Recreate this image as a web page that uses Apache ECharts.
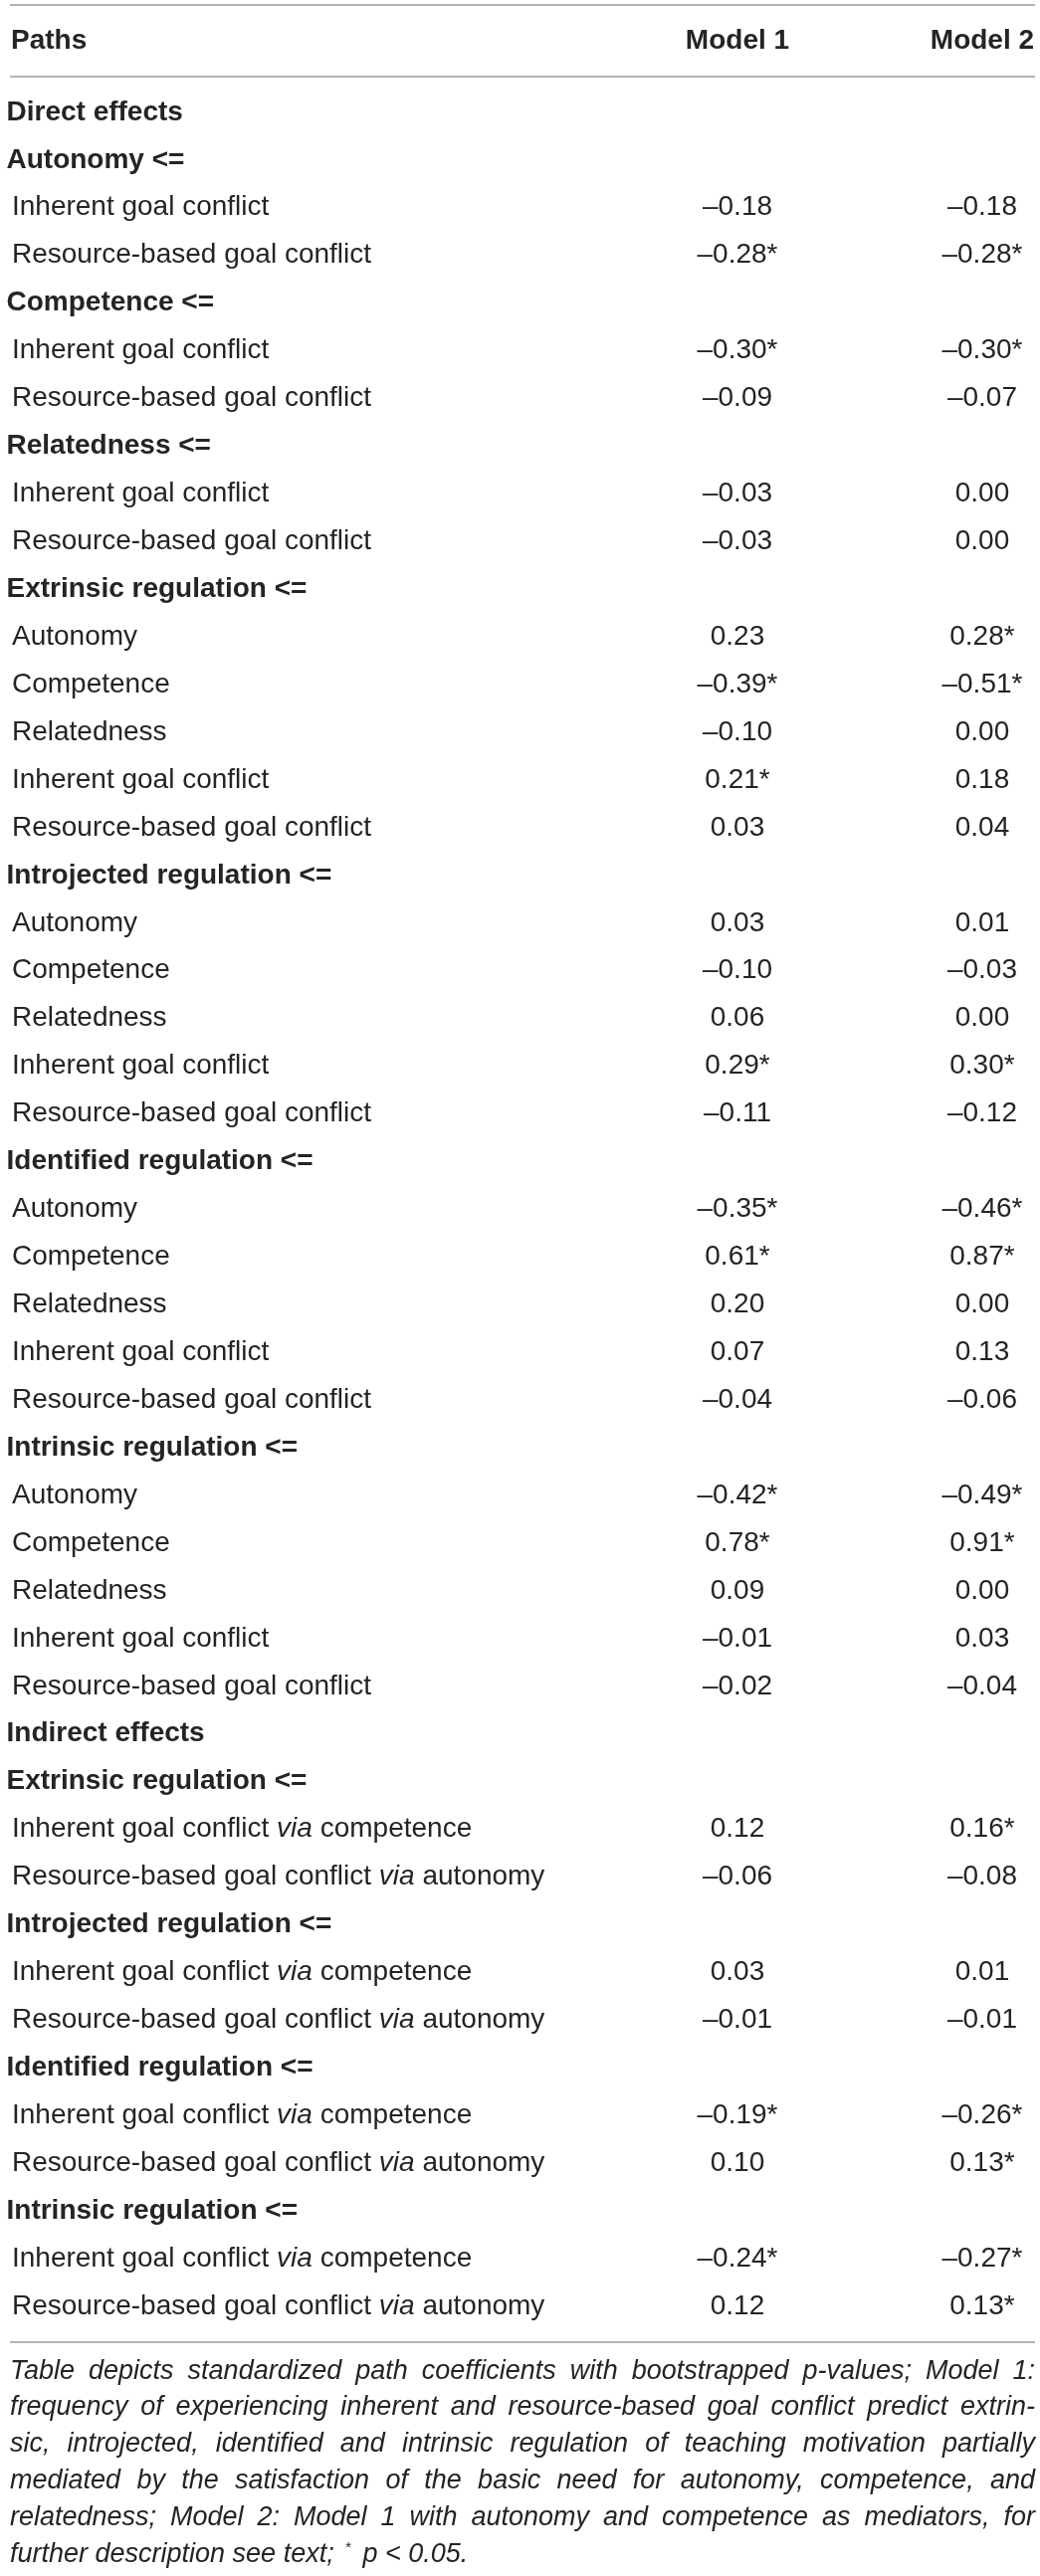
<!DOCTYPE html>
<html lang="en">
  <head>
    <meta charset="UTF-8" />
    <title>Standardized path coefficients</title>
    <script src="https://cdn.jsdelivr.net/npm/echarts@6/dist/echarts.min.js"></script>
    <style>
      html, body { margin: 0; padding: 0; background: #fff; }
      #main { width: 1045px; height: 2589px; }
    </style>
  </head>
  <body>
    <div id="main"></div>

    <script>
      // table content
      const headers = ['Paths', 'Model 1', 'Model 2'];

      const paths = [
        'Direct effects',
        'Autonomy <=',
        'Inherent goal conflict',
        'Resource-based goal conflict',
        'Competence <=',
        'Inherent goal conflict',
        'Resource-based goal conflict',
        'Relatedness <=',
        'Inherent goal conflict',
        'Resource-based goal conflict',
        'Extrinsic regulation <=',
        'Autonomy',
        'Competence',
        'Relatedness',
        'Inherent goal conflict',
        'Resource-based goal conflict',
        'Introjected regulation <=',
        'Autonomy',
        'Competence',
        'Relatedness',
        'Inherent goal conflict',
        'Resource-based goal conflict',
        'Identified regulation <=',
        'Autonomy',
        'Competence',
        'Relatedness',
        'Inherent goal conflict',
        'Resource-based goal conflict',
        'Intrinsic regulation <=',
        'Autonomy',
        'Competence',
        'Relatedness',
        'Inherent goal conflict',
        'Resource-based goal conflict',
        'Indirect effects',
        'Extrinsic regulation <=',
        'Inherent goal conflict {it|via} competence',
        'Resource-based goal conflict {it|via} autonomy',
        'Introjected regulation <=',
        'Inherent goal conflict {it|via} competence',
        'Resource-based goal conflict {it|via} autonomy',
        'Identified regulation <=',
        'Inherent goal conflict {it|via} competence',
        'Resource-based goal conflict {it|via} autonomy',
        'Intrinsic regulation <=',
        'Inherent goal conflict {it|via} competence',
        'Resource-based goal conflict {it|via} autonomy'
      ];

      const model1 = [
        null, null, -0.18, -0.28, null, -0.30, -0.09, null, -0.03, -0.03,
        null, 0.23, -0.39, -0.10, 0.21, 0.03,
        null, 0.03, -0.10, 0.06, 0.29, -0.11,
        null, -0.35, 0.61, 0.20, 0.07, -0.04,
        null, -0.42, 0.78, 0.09, -0.01, -0.02,
        null, null, 0.12, -0.06, null, 0.03, -0.01, null, -0.19, 0.10, null, -0.24, 0.12
      ];

      const model2 = [
        null, null, -0.18, -0.28, null, -0.30, -0.07, null, 0.00, 0.00,
        null, 0.28, -0.51, 0.00, 0.18, 0.04,
        null, 0.01, -0.03, 0.00, 0.30, -0.12,
        null, -0.46, 0.87, 0.00, 0.13, -0.06,
        null, -0.49, 0.91, 0.00, 0.03, -0.04,
        null, null, 0.16, -0.08, null, 0.01, -0.01, null, -0.26, 0.13, null, -0.27, 0.13
      ];

      // rows where p < 0.05
      const sigRows1 = [3, 5, 12, 14, 20, 23, 24, 29, 30, 42, 45];
      const sigRows2 = [3, 5, 11, 12, 20, 23, 24, 29, 30, 36, 42, 43, 45, 46];

      const captionLines = [
        'Table depicts standardized path coefficients with bootstrapped p-values; Model 1:',
        'frequency of experiencing inherent and resource-based goal conflict predict extrin-',
        'sic, introjected, identified and intrinsic regulation of teaching motivation partially',
        'mediated by the satisfaction of the basic need for autonomy, competence, and',
        'relatedness; Model 2: Model 1 with autonomy and competence as mediators, for'
      ];
      const captionLast = 'further description see text; {sup|*} p < 0.05.';

      // layout
      const INK = '#262324';
      const RULE = '#9b9b9b';
      const FONT = '"Liberation Sans", Arial, Helvetica, sans-serif';
      const SIZE = 28;
      const CAP_SIZE = 27;
      const COL_X = { heading: -0.34, path: 0.19, m1: 70.97, m2: 94.85 };
      const HEADER_ROW = -1.5;

      function fmt(v, sig) {
        const s = (v < 0 ? '\u2013' : '') + Math.abs(v).toFixed(2);
        return sig ? s + '*' : s;
      }

      function isHeading(i) {
        return model1[i] === null;
      }

      function textEl(pt, text, extra) {
        return {
          type: 'text',
          x: pt[0],
          y: pt[1],
          style: Object.assign(
            {
              text: text,
              fill: INK,
              fontFamily: FONT,
              fontSize: SIZE,
              align: 'left',
              verticalAlign: 'middle'
            },
            extra
          )
        };
      }

      const pathData = paths.map((p, i) => [isHeading(i) ? COL_X.heading : COL_X.path, i]);
      const valueRows = model1.map((v, i) => i).filter((i) => model1[i] !== null);
      const m1Data = valueRows.map((i) => [COL_X.m1, i]);
      const m2Data = valueRows.map((i) => [COL_X.m2, i]);
      const headerData = [
        [0.1, HEADER_ROW],
        [COL_X.m1, HEADER_ROW],
        [COL_X.m2, HEADER_ROW]
      ];

      const options = {
        animation: false,
        backgroundColor: '#ffffff',
        grid: { left: 10, right: 5, top: 5, bottom: 235 },
        xAxis: { type: 'value', min: 0, max: 100, show: false },
        yAxis: { type: 'value', inverse: true, min: -2.25, max: 46.75, show: false },
        series: [
          {
            // carries the three rules of the table
            type: 'line',
            data: [[0, HEADER_ROW]],
            showSymbol: false,
            silent: true,
            lineStyle: { opacity: 0 },
            markLine: {
              silent: true,
              symbol: 'none',
              label: { show: false },
              lineStyle: { color: RULE, width: 1.6, type: 'solid' },
              data: [{ yAxis: -2.25 }, { yAxis: -0.75 }, { yAxis: 46.75 }]
            }
          },
          {
            type: 'custom',
            data: headerData,
            renderItem: function (params, api) {
              const i = params.dataIndex;
              const pt = api.coord([api.value(0), api.value(1)]);
              return textEl(pt, headers[i], {
                fontWeight: 'bold',
                align: i === 0 ? 'left' : 'center'
              });
            }
          },
          {
            type: 'custom',
            data: pathData,
            renderItem: function (params, api) {
              const i = params.dataIndex;
              const pt = api.coord([api.value(0), api.value(1)]);
              const extra = isHeading(i)
                ? { fontWeight: 'bold' }
                : {
                    rich: {
                      it: { fontStyle: 'italic', fontFamily: FONT, fontSize: SIZE, fill: INK }
                    }
                  };
              return textEl(pt, paths[i], extra);
            }
          },
          {
            type: 'custom',
            data: m1Data,
            renderItem: function (params, api) {
              const i = valueRows[params.dataIndex];
              const pt = api.coord([api.value(0), api.value(1)]);
              return textEl(pt, fmt(model1[i], sigRows1.includes(i)), { align: 'center' });
            }
          },
          {
            type: 'custom',
            data: m2Data,
            renderItem: function (params, api) {
              const i = valueRows[params.dataIndex];
              const pt = api.coord([api.value(0), api.value(1)]);
              return textEl(pt, fmt(model2[i], sigRows2.includes(i)), { align: 'center' });
            }
          }
        ]
      };

      var myChart = echarts.init(document.getElementById('main'), null, { renderer: 'canvas' });
      myChart.setOption(options);

      // caption under the bottom rule, justified like the printed note
      const ruleY = myChart.convertToPixel({ yAxisIndex: 0 }, 46.75);
      const ctx = document.createElement('canvas').getContext('2d');
      const leftX = 10;
      const rightX = 1040;
      const pitch = 36.8;
      const firstY = ruleY + 29;
      const captionEls = [];

      // shrink the caption font a little if a line would not fit
      let capSize = CAP_SIZE;
      function minGap(size) {
        ctx.font = 'italic ' + size + 'px ' + FONT;
        return Math.min.apply(
          null,
          captionLines.map((line) => {
            const words = line.split(' ');
            const total = words.reduce((a, w) => a + ctx.measureText(w).width, 0);
            return (rightX - leftX - total) / (words.length - 1);
          })
        );
      }
      while (capSize > 20 && minGap(capSize) < capSize * 0.22) capSize -= 0.5;
      const capFont = 'italic ' + capSize + 'px ' + FONT;
      ctx.font = capFont;

      captionLines.forEach((line, k) => {
        const words = line.split(' ');
        const widths = words.map((w) => ctx.measureText(w).width);
        const total = widths.reduce((a, b) => a + b, 0);
        const gap = (rightX - leftX - total) / (words.length - 1);
        let x = leftX;
        words.forEach((w, j) => {
          captionEls.push({
            type: 'text',
            x: x,
            y: firstY + k * pitch,
            silent: true,
            style: { text: w, font: capFont, fill: INK, align: 'left', verticalAlign: 'middle' }
          });
          x += widths[j] + gap;
        });
      });

      captionEls.push({
        type: 'text',
        x: leftX,
        y: firstY + captionLines.length * pitch,
        silent: true,
        style: {
          text: captionLast,
          font: capFont,
          fill: INK,
          align: 'left',
          verticalAlign: 'middle',
          rich: {
            sup: {
              fontStyle: 'normal',
              fontFamily: FONT,
              fontSize: 15,
              fill: INK,
              verticalAlign: 'top',
              padding: [0, 4, 12, 4]
            }
          }
        }
      });

      myChart.setOption({ graphic: captionEls });

      window.onresize = function () {
        myChart.resize();
      };
    </script>
  </body>
</html>
